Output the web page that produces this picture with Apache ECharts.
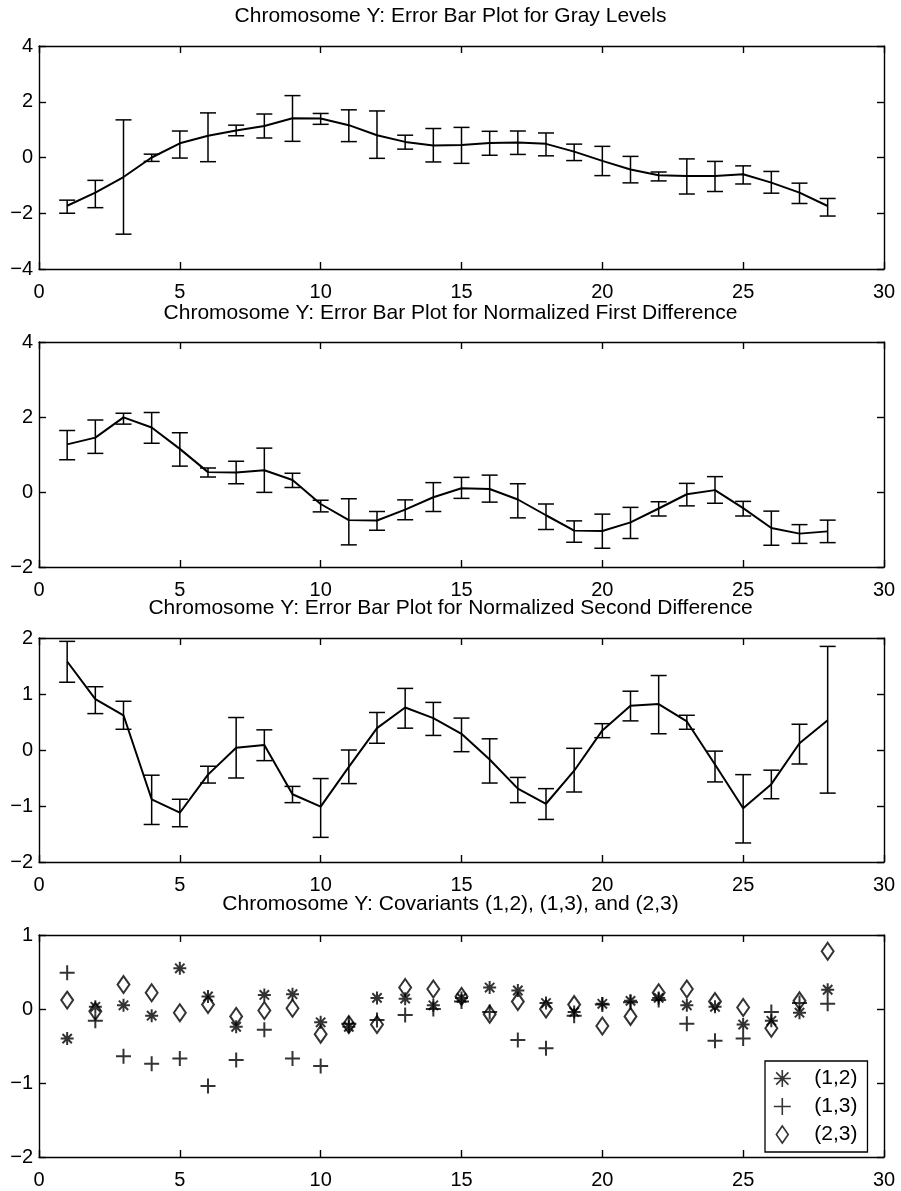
<!DOCTYPE html>
<html>
<head>
<meta charset="utf-8">
<script src="https://cdn.jsdelivr.net/npm/echarts@6/dist/echarts.min.js"></script>
<style>
html,body{margin:0;padding:0;background:#fff;}
#chart{width:901px;height:1191px;}
</style>
</head>
<body>
<div id="chart"></div>
<script>
// ---------- DATA ----------
const positions = [1,2,3,4,5,6,7,8,9,10,11,12,13,14,15,16,17,18,19,20,21,22,23,24,25,26,27,28];

const titles = [
  'Chromosome Y: Error Bar Plot for Gray Levels',
  'Chromosome Y: Error Bar Plot for Normalized First Difference',
  'Chromosome Y: Error Bar Plot for Normalized Second Difference',
  'Chromosome Y: Covariants (1,2), (1,3), and (2,3)'
];

// Panel 1: gray levels
const grayMean = [-1.73,-1.26,-0.70,0.00,0.51,0.78,0.97,1.13,1.41,1.40,1.16,0.80,0.56,0.43,0.45,0.52,0.54,0.49,0.21,-0.12,-0.43,-0.64,-0.66,-0.66,-0.60,-0.90,-1.26,-1.74];
const grayLow  = [-2.00,-1.80,-2.75,-0.14,-0.02,-0.15,0.78,0.70,0.58,1.19,0.57,-0.03,0.30,-0.16,-0.21,0.08,0.11,0.06,-0.11,-0.65,-0.91,-0.84,-1.31,-1.22,-0.95,-1.28,-1.65,-2.10];
const grayHigh = [-1.53,-0.82,1.35,0.12,0.95,1.60,1.16,1.56,2.22,1.58,1.71,1.67,0.80,1.04,1.08,0.94,0.95,0.88,0.48,0.40,0.04,-0.52,-0.05,-0.14,-0.30,-0.50,-0.92,-1.47];

// Panel 2: normalized first difference
const firstMean = [1.27,1.45,1.99,1.72,1.15,0.53,0.52,0.58,0.32,-0.32,-0.75,-0.76,-0.47,-0.14,0.10,0.08,-0.20,-0.62,-1.03,-1.04,-0.81,-0.44,-0.06,0.05,-0.43,-0.96,-1.11,-1.05];
const firstLow  = [0.86,1.03,1.81,1.30,0.69,0.40,0.22,-0.01,0.12,-0.53,-1.41,-1.02,-0.74,-0.52,-0.17,-0.27,-0.69,-1.00,-1.34,-1.50,-1.24,-0.64,-0.37,-0.30,-0.64,-1.42,-1.37,-1.35];
const firstHigh = [1.64,1.92,2.10,2.12,1.58,0.64,0.82,1.17,0.50,-0.22,-0.18,-0.52,-0.21,0.25,0.39,0.45,0.22,-0.32,-0.77,-0.59,-0.41,-0.26,0.23,0.41,-0.25,-0.51,-0.87,-0.75];

// Panel 3: normalized second difference
const secondMean = [1.58,0.91,0.62,-0.88,-1.12,-0.44,0.04,0.09,-0.79,-1.01,-0.30,0.39,0.76,0.57,0.29,-0.17,-0.69,-0.96,-0.37,0.35,0.79,0.82,0.51,-0.26,-1.04,-0.61,0.12,0.53];
const secondLow  = [1.21,0.65,0.37,-1.33,-1.37,-0.59,-0.50,-0.19,-0.94,-1.56,-0.60,0.12,0.39,0.26,-0.03,-0.59,-0.94,-1.24,-0.75,0.22,0.52,0.29,0.37,-0.57,-1.66,-0.87,-0.25,-0.77];
const secondHigh = [1.94,1.13,0.87,-0.45,-0.88,-0.29,0.58,0.36,-0.65,-0.51,0.00,0.67,1.10,0.85,0.57,0.20,-0.49,-0.69,0.03,0.47,1.05,1.33,0.62,-0.02,-0.44,-0.36,0.46,1.85];

// Panel 4: covariants
const cov12 = [-0.40,0.03,0.05,-0.09,0.55,0.17,-0.24,0.19,0.20,-0.18,-0.24,0.15,0.14,0.05,0.15,0.29,0.25,0.08,-0.04,0.07,0.11,0.15,0.05,0.03,-0.21,-0.16,-0.05,0.26];
const cov13 = [0.49,-0.16,-0.64,-0.74,-0.67,-1.04,-0.69,-0.28,-0.67,-0.77,-0.20,-0.15,-0.08,0.00,0.10,-0.04,-0.42,-0.53,-0.09,0.06,0.09,0.12,-0.20,-0.43,-0.40,-0.04,0.08,0.07];
const cov23 = [0.12,-0.03,0.33,0.22,-0.05,0.06,-0.10,-0.02,0.01,-0.34,-0.21,-0.21,0.29,0.27,0.17,-0.07,0.10,0.00,0.06,-0.23,-0.10,0.22,0.27,0.10,0.02,-0.26,0.11,0.78];
const covNames = ['(1,2)','(1,3)','(2,3)'];

// axis ranges per panel: [min, max, interval]
const yRanges = [[-4,4,2],[-2,4,2],[-2,2,1],[-2,1,1]];
const xRange = [0,30,5];

// ---------- CHART ----------
const FONT = '"Liberation Sans", Arial, Helvetica, sans-serif';
const grids = [
  {left:39, right:17, top:46, height:223},
  {left:39, right:17, top:342, height:225},
  {left:39, right:17, top:638, height:224},
  {left:39, right:17, top:935, height:222}
];
const titleTops = [6, 303, 598, 894];
const minusFmt = v => String(v).replace('-', '\u2212');

const axisLineStyle = {color:'#000', width:1.4};
const xAxes = [], yAxes = [];
grids.forEach((g, i) => {
  ['bottom','top'].forEach(pos => {
    xAxes.push({
      gridIndex:i, type:'value', position:pos, min:xRange[0], max:xRange[1], interval:xRange[2],
      axisLine:{show:true, onZero:false, lineStyle:axisLineStyle},
      axisTick:{show:true, inside:true, length:7, lineStyle:axisLineStyle},
      axisLabel:{show:pos==='bottom', color:'#000', fontSize:20, fontFamily:FONT, margin:13},
      splitLine:{show:false}
    });
  });
  ['left','right'].forEach(pos => {
    yAxes.push({
      gridIndex:i, type:'value', position:pos, min:yRanges[i][0], max:yRanges[i][1], interval:yRanges[i][2],
      axisLine:{show:true, onZero:false, lineStyle:axisLineStyle},
      axisTick:{show:true, inside:true, length:7, lineStyle:axisLineStyle},
      axisLabel:{show:pos==='left', color:'#000', fontSize:20, fontFamily:FONT, margin:6, formatter:minusFmt},
      splitLine:{show:false}
    });
  });
});

function errorBarSeries(i, low, high) {
  return {
    type:'custom', xAxisIndex:2*i, yAxisIndex:2*i,
    data: positions.map((x, k) => [x, low[k], high[k]]),
    encode:{x:0, y:[1,2]},
    silent:true,
    renderItem: function (params, api) {
      const x = api.value(0);
      const pLo = api.coord([x, api.value(1)]);
      const pHi = api.coord([x, api.value(2)]);
      const hw = 8;
      const st = {stroke:'#000', lineWidth:1.5};
      return {type:'group', children:[
        {type:'line', shape:{x1:pLo[0], y1:pLo[1], x2:pHi[0], y2:pHi[1]}, style:st},
        {type:'line', shape:{x1:pLo[0]-hw, y1:pLo[1], x2:pLo[0]+hw, y2:pLo[1]}, style:st},
        {type:'line', shape:{x1:pHi[0]-hw, y1:pHi[1], x2:pHi[0]+hw, y2:pHi[1]}, style:st}
      ]};
    }
  };
}
function meanSeries(i, mean) {
  return {
    type:'line', xAxisIndex:2*i, yAxisIndex:2*i, silent:true,
    data: positions.map((x, k) => [x, mean[k]]),
    symbol:'none', lineStyle:{color:'#000', width:2}, itemStyle:{color:'#000'}
  };
}

const ASTER = 'path://M0,-1L0,1M-1,0L1,0M-0.72,-0.72L0.72,0.72M-0.72,0.72L0.72,-0.72';
const PLUS  = 'path://M0,-1L0,1M-1,0L1,0';
const DIAM  = 'path://M0,-1L0.7,0L0,1L-0.7,0Z';
const markerStyle = {color:'rgba(0,0,0,0)', borderColor:'#000', borderWidth:2};

function scatterSeries(name, vals, symbol, size) {
  return {
    type:'scatter', name:name, xAxisIndex:6, yAxisIndex:6, silent:true,
    data: positions.map((x, k) => [x, vals[k]]),
    symbol:symbol, symbolSize:size, symbolKeepAspect:true,
    itemStyle:markerStyle
  };
}

const option = {
  animation:false,
  backgroundColor:'#fff',
  textStyle:{fontFamily:FONT, color:'#000'},
  title: titles.map((t, i) => ({
    text:t, left:'center', top:titleTops[i], padding:[0,0,0,28],
    textStyle:{fontSize:21, fontWeight:'normal', color:'#000', fontFamily:FONT}
  })),
  grid: grids,
  xAxis: xAxes,
  yAxis: yAxes,
  legend: {
    orient:'vertical', left:765, top:1061,
    data: covNames,
    backgroundColor:'#fff', borderColor:'#000', borderWidth:1.3,
    padding:[7,10,7,8], itemGap:7, itemWidth:36, itemHeight:17,
    itemStyle:{color:'rgba(0,0,0,0)', borderColor:'#000', borderWidth:1.6},
    textStyle:{fontSize:21, color:'#000', fontFamily:FONT, padding:[0,0,0,9]},
    selectedMode:false
  },
  series: [
    errorBarSeries(0, grayLow, grayHigh), meanSeries(0, grayMean),
    errorBarSeries(1, firstLow, firstHigh), meanSeries(1, firstMean),
    errorBarSeries(2, secondLow, secondHigh), meanSeries(2, secondMean),
    scatterSeries(covNames[0], cov12, ASTER, 13),
    scatterSeries(covNames[1], cov13, PLUS, 15),
    scatterSeries(covNames[2], cov23, DIAM, 17)
  ]
};

const chart = echarts.init(document.getElementById('chart'), null, {renderer:'canvas'});
chart.setOption(option);
</script>
</body>
</html>
